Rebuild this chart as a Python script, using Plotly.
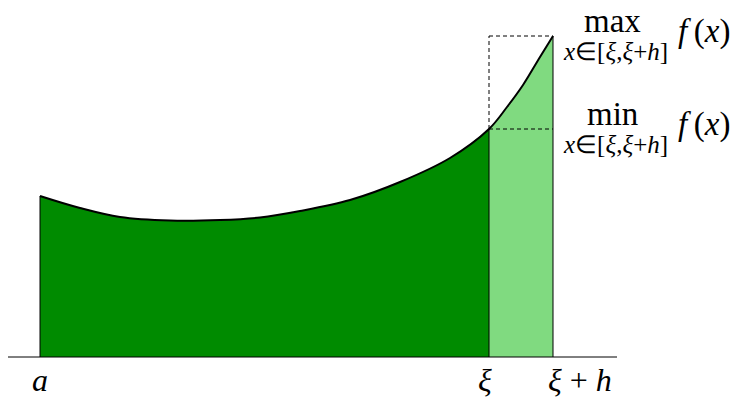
import plotly.graph_objects as go

# Curve f(x) (x positions and heights above the axis)
xs = [40, 80, 120, 170, 220, 260, 300, 350, 400, 450, 489, 507, 523, 540, 553]
fs = [161, 149, 140, 136.5, 137, 139.5, 146, 157, 175, 199, 228, 250, 272, 300, 321]

x_a, x_xi, x_xih = 40, 489, 553
axis_range = [8, 617]

tick_labels = ["<i>a</i>", "<i>ξ</i>", "<i>ξ</i> + <i>h</i>"]
tick_label_x = [40, 485, 580]

DARK = "rgb(0,139,0)"
LIGHT = "rgb(128,218,128)"
SERIF = "Liberation Serif"

i_xi = xs.index(x_xi)
i_end = xs.index(x_xih)

fig = go.Figure()
# dark region [a, xi]
fig.add_trace(go.Scatter(x=xs[:i_xi + 1], y=fs[:i_xi + 1], mode="lines",
                         line=dict(width=0, shape="spline", color=DARK),
                         fill="tozeroy", fillcolor=DARK, hoverinfo="skip"))
# light region [xi, xi+h]
fig.add_trace(go.Scatter(x=xs[i_xi:i_end + 1], y=fs[i_xi:i_end + 1], mode="lines",
                         line=dict(width=0, shape="spline", color=LIGHT),
                         fill="tozeroy", fillcolor=LIGHT, hoverinfo="skip"))
# curve
fig.add_trace(go.Scatter(x=xs, y=fs, mode="lines",
                         line=dict(width=2, shape="spline", color="black"),
                         hoverinfo="skip"))

f_a, f_xi, f_xih = fs[0], fs[i_xi], fs[i_end]
dash = dict(color="black", width=1, dash="4px,3px")
shapes = [
    dict(type="line", x0=axis_range[0], x1=axis_range[1], y0=0, y1=0,
         line=dict(color="black", width=1)),
    dict(type="line", x0=x_a, x1=x_a, y0=0, y1=f_a, line=dict(color="black", width=1)),
    dict(type="line", x0=x_xi, x1=x_xi, y0=0, y1=f_xi, line=dict(color="black", width=1)),
    dict(type="line", x0=x_xih, x1=x_xih, y0=0, y1=f_xih, line=dict(color="black", width=1)),
    # dashed max box
    dict(type="line", x0=x_xi, x1=x_xih, y0=f_xih, y1=f_xih, line=dash),
    dict(type="line", x0=x_xi, x1=x_xi, y0=f_xi, y1=f_xih, line=dash),
    # dashed min line
    dict(type="line", x0=x_xi, x1=x_xih, y0=f_xi, y1=f_xi, line=dash),
]
for s in shapes:
    s.update(xref="x", yref="y", layer="above")

ann = []
for t, x in zip(tick_labels, tick_label_x):
    ann.append(dict(x=x, y=-23, text=t, showarrow=False, xanchor="center", yanchor="middle",
                    font=dict(family=SERIF, size=32, color="black")))

sub = "<i>x</i>∈[<i>ξ</i>,<i>ξ</i>+<i>h</i>]"
for name, ytop in (("max", f_xih), ("min", f_xi)):
    ann.append(dict(x=612, y=ytop + 15, text=name, showarrow=False, xanchor="center", yanchor="middle",
                    font=dict(family=SERIF, size=33, color="black")))
    ann.append(dict(x=615, y=ytop - 15, text=sub, showarrow=False, xanchor="center", yanchor="middle",
                    font=dict(family=SERIF, size=25, color="black")))
    ann.append(dict(x=704, y=ytop + 5, text="<i>f</i>\u2009(<i>x</i>)", showarrow=False,
                    xanchor="center", yanchor="middle",
                    font=dict(family=SERIF, size=33, color="black")))

fig.update_layout(
    width=737, height=399, margin=dict(l=0, r=0, t=0, b=0),
    paper_bgcolor="white", plot_bgcolor="white", showlegend=False,
    xaxis=dict(range=[0, 737], visible=False, fixedrange=True),
    yaxis=dict(range=[-42, 357], visible=False, fixedrange=True),
    shapes=shapes, annotations=ann,
)
fig.write_html("out.html", config={"displayModeBar": False})
